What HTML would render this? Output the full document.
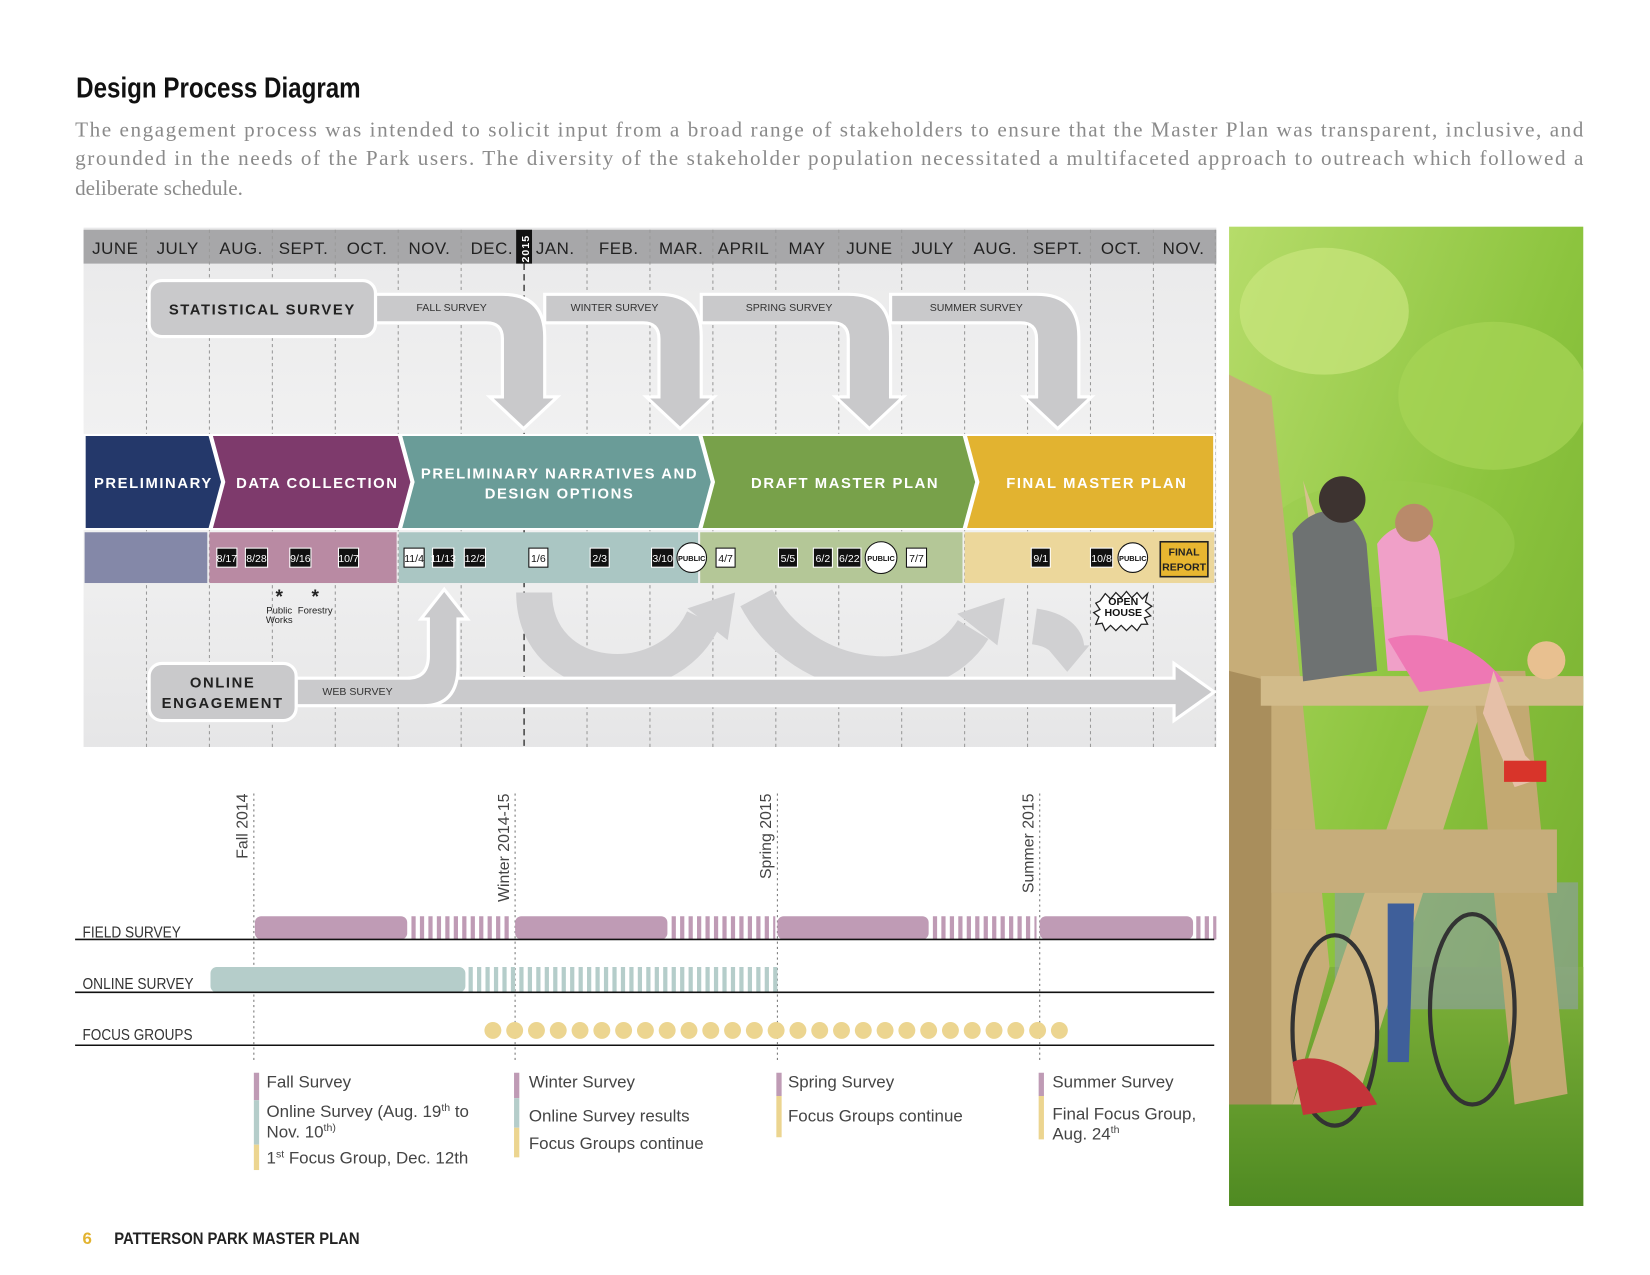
<!DOCTYPE html>
<html><head><meta charset="utf-8"><style>html,body{margin:0;padding:0;background:#fff}svg{display:block}</style></head>
<body>
<svg width="1650" height="1275" viewBox="0 0 1560 1205" xmlns="http://www.w3.org/2000/svg" font-family="Liberation Sans, sans-serif">
<defs>
<linearGradient id="bg" x1="0" y1="0" x2="0" y2="1"><stop offset="0" stop-color="#e9e9ea"/><stop offset="0.5" stop-color="#f3f3f3"/><stop offset="1" stop-color="#e6e6e7"/></linearGradient>
<linearGradient id="tree" x1="0" y1="0" x2="1" y2="1"><stop offset="0" stop-color="#b6dc6a"/><stop offset="0.5" stop-color="#8cc43e"/><stop offset="1" stop-color="#6fa82c"/></linearGradient>
<linearGradient id="grass" x1="0" y1="0" x2="0" y2="1"><stop offset="0" stop-color="#7fb23a"/><stop offset="1" stop-color="#4f8a22"/></linearGradient>
</defs>
<rect width="1560" height="1205" fill="#fff"/>
<text x="72" y="92" font-weight="bold" font-size="27" fill="#111" textLength="269" lengthAdjust="spacingAndGlyphs">Design Process Diagram</text>
<g font-family="Liberation Serif, serif" font-size="20" fill="#8a8a8a">
<text x="71" y="129" textLength="1426" lengthAdjust="spacing">The engagement process was intended to solicit input from a broad range of stakeholders to ensure that the Master Plan was transparent, inclusive, and</text>
<text x="71" y="156" textLength="1426" lengthAdjust="spacing">grounded in the needs of the Park users. The diversity of the stakeholder population necessitated a multifaceted approach to outreach which followed a</text>
<text x="71" y="184">deliberate schedule.</text>
</g>
<rect x="79" y="215" width="1071" height="491" fill="url(#bg)"/>
<rect x="79" y="217" width="1071" height="32" fill="#a7a7a9"/>
<g stroke="#999" stroke-width="1" stroke-dasharray="3,3">
<line x1="138.5" y1="217" x2="138.5" y2="706"/><line x1="198" y1="217" x2="198" y2="706"/><line x1="257.5" y1="217" x2="257.5" y2="706"/><line x1="317" y1="217" x2="317" y2="706"/><line x1="376.5" y1="217" x2="376.5" y2="706"/><line x1="436" y1="217" x2="436" y2="706"/><line x1="555" y1="217" x2="555" y2="706"/><line x1="614.5" y1="217" x2="614.5" y2="706"/><line x1="674" y1="217" x2="674" y2="706"/><line x1="733.5" y1="217" x2="733.5" y2="706"/><line x1="793" y1="217" x2="793" y2="706"/><line x1="852.5" y1="217" x2="852.5" y2="706"/><line x1="912" y1="217" x2="912" y2="706"/><line x1="971.5" y1="217" x2="971.5" y2="706"/><line x1="1031" y1="217" x2="1031" y2="706"/><line x1="1090.5" y1="217" x2="1090.5" y2="706"/><line x1="1149" y1="217" x2="1149" y2="706"/>
</g>
<line x1="495.5" y1="249" x2="495.5" y2="706" stroke="#222" stroke-width="1.2" stroke-dasharray="6,4"/>
<g font-size="16" fill="#222" text-anchor="middle" letter-spacing="0.5">
<text x="109" y="240">JUNE</text><text x="168" y="240">JULY</text><text x="228" y="240">AUG.</text><text x="287" y="240">SEPT.</text><text x="347" y="240">OCT.</text><text x="406" y="240">NOV.</text><text x="465" y="240">DEC.</text><text x="525" y="240">JAN.</text><text x="585" y="240">FEB.</text><text x="644" y="240">MAR.</text><text x="703" y="240">APRIL</text><text x="763" y="240">MAY</text><text x="822" y="240">JUNE</text><text x="882" y="240">JULY</text><text x="941" y="240">AUG.</text><text x="1000" y="240">SEPT.</text><text x="1060" y="240">OCT.</text><text x="1119" y="240">NOV.</text>
</g>
<rect x="488" y="217" width="15" height="32" fill="#111"/>
<text x="0" y="0" transform="translate(500,248) rotate(-90)" font-size="10" font-weight="bold" fill="#fff" letter-spacing="1">2015</text>
<g fill="#c9c9cb" stroke="#fff" stroke-width="3">
<path d="M355 278 H475 Q515 278 515 318 V375 H527 L495 405 L463 375 H475 V320 Q475 305 460 305 H355 Z"/>
<path d="M515 278 H623 Q663 278 663 318 V375 H675 L643 405 L611 375 H623 V320 Q623 305 608 305 H515 Z"/>
<path d="M663 278 H802 Q842 278 842 318 V375 H854 L822 405 L790 375 H802 V320 Q802 305 787 305 H663 Z"/>
<path d="M842 278 H980 Q1020 278 1020 318 V375 H1032 L1000 405 L968 375 H980 V320 Q980 305 965 305 H842 Z"/>
</g>
<g font-size="10" fill="#333" text-anchor="middle">
<text x="427" y="294">FALL SURVEY</text><text x="581" y="294">WINTER SURVEY</text><text x="746" y="294">SPRING SURVEY</text><text x="923" y="294">SUMMER SURVEY</text>
</g>
<rect x="141" y="265" width="214" height="53" rx="12" fill="#c9c9cb" stroke="#fff" stroke-width="3"/>
<text x="248" y="297" text-anchor="middle" font-size="14" font-weight="bold" fill="#222" letter-spacing="1.5">STATISTICAL SURVEY</text>
<g stroke="#fff" stroke-width="2">
<path d="M80 411 H198 L210 455.5 L198 500 H80 Z" fill="#24386a"/>
<path d="M200 411 H377 L389 455.5 L377 500 H200 L212 455.5 Z" fill="#7e3a6c"/>
<path d="M379 411 H661 L673 455.5 L661 500 H379 L391 455.5 Z" fill="#6a9c98"/>
<path d="M663 411 H911 L923 455.5 L911 500 H663 L675 455.5 Z" fill="#78a14a"/>
<path d="M913 411 H1148 V500 H913 L925 455.5 Z" fill="#e2b330"/>
</g>
<g font-size="14" font-weight="bold" fill="#fff" text-anchor="middle" letter-spacing="1.5">
<text x="145" y="461">PRELIMINARY</text><text x="300" y="461">DATA COLLECTION</text>
<text x="529" y="452">PRELIMINARY NARRATIVES AND</text><text x="529" y="471">DESIGN OPTIONS</text>
<text x="799" y="461">DRAFT MASTER PLAN</text><text x="1037" y="461">FINAL MASTER PLAN</text>
</g>
<rect x="80" y="503" width="116" height="48" fill="#8488a8"/>
<rect x="198" y="503" width="177" height="48" fill="#b98aa3"/>
<rect x="377" y="503" width="283" height="48" fill="#aac6c3"/>
<rect x="662" y="503" width="248" height="48" fill="#b4c797"/>
<rect x="912" y="503" width="236" height="48" fill="#ecd79b"/>
<g font-size="10" text-anchor="middle">
<rect x="205" y="518" width="19" height="18" fill="#111" stroke="#fff"/><text x="214.5" y="531" fill="#fff">8/17</text>
<rect x="232" y="518" width="21" height="18" fill="#111" stroke="#fff"/><text x="242.5" y="531" fill="#fff">8/28</text>
<rect x="274" y="518" width="20" height="18" fill="#111" stroke="#fff"/><text x="284" y="531" fill="#fff">9/16</text>
<rect x="320" y="518" width="19" height="18" fill="#111" stroke="#fff"/><text x="329.5" y="531" fill="#fff">10/7</text>
<rect x="382" y="518" width="19" height="18" fill="#fff" stroke="#111"/><text x="391.5" y="531" fill="#111">11/4</text>
<rect x="409" y="518" width="20" height="18" fill="#111" stroke="#fff"/><text x="419" y="531" fill="#fff">11/13</text>
<rect x="439" y="518" width="20" height="18" fill="#111" stroke="#fff"/><text x="449" y="531" fill="#fff">12/2</text>
<rect x="500" y="518" width="18" height="18" fill="#fff" stroke="#111"/><text x="509" y="531" fill="#111">1/6</text>
<rect x="558" y="518" width="18" height="18" fill="#111" stroke="#fff"/><text x="567" y="531" fill="#fff">2/3</text>
<rect x="616" y="518" width="21" height="18" fill="#111" stroke="#fff"/><text x="626.5" y="531" fill="#fff">3/10</text>
<circle cx="654" cy="527" r="14" fill="#fff" stroke="#111"/><text x="654" y="530" font-size="7" font-weight="bold" fill="#111">PUBLIC</text>
<rect x="677" y="518" width="18" height="18" fill="#fff" stroke="#111"/><text x="686" y="531" fill="#111">4/7</text>
<rect x="736" y="518" width="18" height="18" fill="#111" stroke="#fff"/><text x="745" y="531" fill="#fff">5/5</text>
<rect x="769" y="518" width="18" height="18" fill="#111" stroke="#fff"/><text x="778" y="531" fill="#fff">6/2</text>
<rect x="792" y="518" width="22" height="18" fill="#111" stroke="#fff"/><text x="803" y="531" fill="#fff">6/22</text>
<circle cx="833" cy="527" r="15" fill="#fff" stroke="#111"/><text x="833" y="530" font-size="7" font-weight="bold" fill="#111">PUBLIC</text>
<rect x="857" y="518" width="19" height="18" fill="#fff" stroke="#111"/><text x="866.5" y="531" fill="#111">7/7</text>
<rect x="975" y="518" width="18" height="18" fill="#111" stroke="#fff"/><text x="984" y="531" fill="#fff">9/1</text>
<rect x="1031" y="518" width="21" height="18" fill="#111" stroke="#fff"/><text x="1041.5" y="531" fill="#fff">10/8</text>
<circle cx="1071" cy="527" r="14" fill="#fff" stroke="#111"/><text x="1071" y="530" font-size="7" font-weight="bold" fill="#111">PUBLIC</text>
<rect x="1097" y="512" width="45" height="33" fill="#e8b630" stroke="#222" stroke-width="1.5"/>
<text x="1119.5" y="525" font-size="10" font-weight="bold" fill="#222">FINAL</text><text x="1119.5" y="539" font-size="10" font-weight="bold" fill="#222">REPORT</text>
</g>
<g font-size="9" fill="#222" text-anchor="middle">
<text x="264" y="570" font-size="18" font-weight="bold">*</text><text x="298" y="570" font-size="18" font-weight="bold">*</text>
<text x="264" y="580">Public</text><text x="264" y="589">Works</text><text x="298" y="580">Forestry</text>
</g>
<path d="M1040 568 l5 -7 l5 5 l5 -6 l5 5 l5 -6 l5 6 l5 -5 l5 6 l5 -5 l-2 8 l6 4 l-6 4 l5 5 l-6 2 l3 6 l-6 0 l-4 6 l-5 -5 l-5 5 l-5 -5 l-5 5 l-5 -5 l-5 5 l-3 -7 l-6 1 l3 -7 l-5 -4 l6 -3 l-4 -6 z" fill="#fff" stroke="#222" stroke-width="1.2"/>
<text x="1062" y="572" text-anchor="middle" font-size="10" font-weight="bold" fill="#111">OPEN</text>
<text x="1062" y="582" text-anchor="middle" font-size="10" font-weight="bold" fill="#111">HOUSE</text>
<g fill="none" stroke="#d0d0d2" stroke-width="34">
<path d="M505 560 C505 650, 630 660, 665 585"/>
<path d="M715 565 C760 650, 880 660, 920 595"/>
<path d="M978 592 C1000 595, 1008 605, 1008 612"/>
</g>
<g fill="#d0d0d2">
<path d="M650 575 L695 560 L688 605 Z"/>
<path d="M905 580 L950 565 L943 610 Z"/>
<path d="M988 610 L1030 610 L1009 635 Z"/>
</g>
<g fill="#cacacc" stroke="#fff" stroke-width="3">
<path d="M405 641 H1110 V627 L1148 654 L1110 681 V667 H405 Z"/>
<path d="M280 641 H385 Q405 641 405 620 V585 H398 L420 557 L442 585 H433 V630 Q433 667 400 667 H280 Z"/>
</g>
<rect x="141" y="627" width="139" height="54" rx="12" fill="#c9c9cb" stroke="#fff" stroke-width="3"/>
<text x="210.5" y="650" text-anchor="middle" font-size="14" font-weight="bold" fill="#222" letter-spacing="1.5">ONLINE</text>
<text x="210.5" y="669" text-anchor="middle" font-size="14" font-weight="bold" fill="#222" letter-spacing="1.5">ENGAGEMENT</text>
<text x="338" y="657" text-anchor="middle" font-size="10" fill="#333">WEB SURVEY</text>
<g stroke="#777" stroke-width="1" stroke-dasharray="2,3">
<line x1="240" y1="750" x2="240" y2="1005"/><line x1="487" y1="750" x2="487" y2="1005"/><line x1="735" y1="750" x2="735" y2="1005"/><line x1="983" y1="750" x2="983" y2="1005"/>
</g>
<g font-size="15" fill="#444" text-anchor="end">
<text transform="translate(234,750) rotate(-90)">Fall 2014</text>
<text transform="translate(481,750) rotate(-90)">Winter 2014-15</text>
<text transform="translate(729,750) rotate(-90)">Spring 2015</text>
<text transform="translate(977,750) rotate(-90)">Summer 2015</text>
</g>
<g font-size="15" fill="#333">
<text x="78" y="886" textLength="93" lengthAdjust="spacingAndGlyphs">FIELD SURVEY</text><text x="78" y="935" textLength="105" lengthAdjust="spacingAndGlyphs">ONLINE SURVEY</text><text x="78" y="983" textLength="104" lengthAdjust="spacingAndGlyphs">FOCUS GROUPS</text>
</g>
<g fill="#bf9bb5">
<rect x="241" y="866" width="144" height="22" rx="6"/><rect x="487" y="866" width="144" height="22" rx="6"/><rect x="735" y="866" width="143" height="22" rx="6"/><rect x="983" y="866" width="145" height="22" rx="6"/>
</g>
<g stroke="#bf9bb5" stroke-dasharray="4,4">
<line x1="389" y1="877" x2="485" y2="877" stroke-width="22"/><line x1="635" y1="877" x2="733" y2="877" stroke-width="22"/><line x1="882" y1="877" x2="980" y2="877" stroke-width="22"/><line x1="1131" y1="877" x2="1150" y2="877" stroke-width="22"/>
</g>
<rect x="199" y="914" width="241" height="24" rx="6" fill="#b5cdca"/>
<line x1="443" y1="926" x2="737" y2="926" stroke="#b5cdca" stroke-width="24" stroke-dasharray="4,4"/>
<g fill="#ecd590">
<circle cx="466" cy="974" r="8"/><circle cx="486.6" cy="974" r="8"/><circle cx="507.2" cy="974" r="8"/><circle cx="527.8" cy="974" r="8"/><circle cx="548.4" cy="974" r="8"/><circle cx="569" cy="974" r="8"/><circle cx="589.6" cy="974" r="8"/><circle cx="610.2" cy="974" r="8"/><circle cx="630.8" cy="974" r="8"/><circle cx="651.4" cy="974" r="8"/><circle cx="672" cy="974" r="8"/><circle cx="692.6" cy="974" r="8"/><circle cx="713.2" cy="974" r="8"/><circle cx="733.8" cy="974" r="8"/><circle cx="754.4" cy="974" r="8"/><circle cx="775" cy="974" r="8"/><circle cx="795.6" cy="974" r="8"/><circle cx="816.2" cy="974" r="8"/><circle cx="836.8" cy="974" r="8"/><circle cx="857.4" cy="974" r="8"/><circle cx="878" cy="974" r="8"/><circle cx="898.6" cy="974" r="8"/><circle cx="919.2" cy="974" r="8"/><circle cx="939.8" cy="974" r="8"/><circle cx="960.4" cy="974" r="8"/><circle cx="981" cy="974" r="8"/><circle cx="1001.6" cy="974" r="8"/>
</g>
<g stroke="#111" stroke-width="1.5">
<line x1="71" y1="888" x2="1148" y2="888"/><line x1="71" y1="938" x2="1148" y2="938"/><line x1="71" y1="988" x2="1148" y2="988"/>
</g>
<rect x="240" y="1014" width="5" height="26" fill="#bf9bb5"/><rect x="240" y="1040" width="5" height="42" fill="#b5cdca"/><rect x="240" y="1082" width="5" height="24" fill="#ecd590"/>
<rect x="486" y="1014" width="5" height="24" fill="#bf9bb5"/><rect x="486" y="1038" width="5" height="28" fill="#b5cdca"/><rect x="486" y="1066" width="5" height="28" fill="#ecd590"/>
<rect x="734" y="1014" width="5" height="22" fill="#bf9bb5"/><rect x="734" y="1036" width="5" height="39" fill="#ecd590"/>
<rect x="982" y="1014" width="5" height="22" fill="#bf9bb5"/><rect x="982" y="1036" width="5" height="41" fill="#ecd590"/>
<g font-size="16" fill="#444">
<text x="252" y="1028">Fall Survey</text>
<text x="252" y="1056">Online Survey (Aug. 19<tspan font-size="10" dy="-6">th</tspan><tspan dy="6"> to</tspan></text>
<text x="252" y="1075">Nov. 10<tspan font-size="10" dy="-6">th)</tspan></text>
<text x="252" y="1100">1<tspan font-size="10" dy="-6">st</tspan><tspan dy="6"> Focus Group, Dec. 12th</tspan></text>
<text x="500" y="1028">Winter Survey</text><text x="500" y="1060">Online Survey results</text><text x="500" y="1086">Focus Groups continue</text>
<text x="745" y="1028">Spring Survey</text><text x="745" y="1060">Focus Groups continue</text>
<text x="995" y="1028">Summer Survey</text><text x="995" y="1058">Final Focus Group,</text>
<text x="995" y="1077">Aug. 24<tspan font-size="10" dy="-6">th</tspan></text>
</g>
<svg x="1162" y="214" width="335" height="926" viewBox="0 0 335 926">
<rect width="335" height="926" fill="url(#tree)"/>
<ellipse cx="90" cy="80" rx="80" ry="60" fill="#c9e67e" opacity="0.7"/>
<ellipse cx="250" cy="160" rx="90" ry="70" fill="#a6d455" opacity="0.7"/>
<ellipse cx="150" cy="300" rx="120" ry="60" fill="#9acb4c" opacity="0.6"/>
<rect y="700" width="335" height="226" fill="url(#grass)"/>
<rect x="100" y="620" width="230" height="120" fill="#8fa0a8" opacity="0.6"/>
<path d="M70 240 C90 300 110 330 130 360 L90 380 Z" fill="#d6c18e"/>
<path d="M0 140 L40 160 L95 700 L60 830 L0 830 Z" fill="#c7ad78"/>
<path d="M0 420 L40 430 L40 830 L0 830 Z" fill="#a98e5c"/>
<path d="M200 420 L250 420 L120 830 L60 830 Z" fill="#cdb582"/>
<path d="M230 420 L280 420 L320 820 L270 830 Z" fill="#c3a972"/>
<rect x="30" y="425" width="305" height="28" fill="#d2bb8a"/>
<rect x="40" y="570" width="270" height="60" fill="#c6ad7b"/>
<path d="M60 290 C80 260 120 260 130 300 L140 420 L70 430 Z" fill="#6e7272"/>
<circle cx="107" cy="258" r="22" fill="#3d3330"/>
<path d="M140 300 C160 270 200 280 200 320 L210 420 L150 420 Z" fill="#f0a0c8"/>
<circle cx="175" cy="280" r="18" fill="#b98a6a"/>
<path d="M150 390 C180 380 230 390 260 430 L180 440 Z" fill="#ee78b4"/>
<path d="M250 420 L280 500 L300 520 L270 530 L240 460 Z" fill="#e6c0a8"/>
<rect x="260" y="505" width="40" height="20" fill="#d8342a"/>
<circle cx="300" cy="410" r="18" fill="#e8c090"/>
<path d="M150 640 L175 640 L170 790 L150 790 Z" fill="#3f5f9a"/>
<ellipse cx="100" cy="760" rx="40" ry="90" fill="none" stroke="#333" stroke-width="4"/>
<ellipse cx="230" cy="740" rx="40" ry="90" fill="none" stroke="#333" stroke-width="4"/>
<path d="M60 790 C80 780 120 790 140 830 L70 840 Z" fill="#c4343a"/>
</svg>
<text x="78" y="1176" font-weight="bold" font-size="16" fill="#e2b330">6</text>
<text x="108" y="1176" font-weight="bold" font-size="16" fill="#222" textLength="232" lengthAdjust="spacingAndGlyphs">PATTERSON PARK MASTER PLAN</text>
</svg>
</body></html>
